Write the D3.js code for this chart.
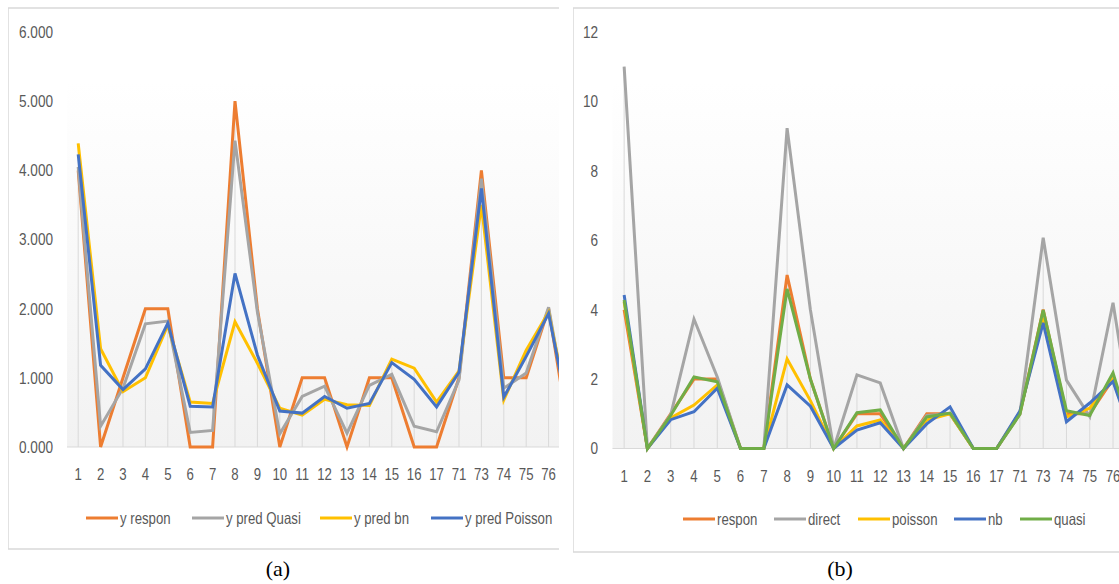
<!DOCTYPE html>
<html>
<head>
<meta charset="utf-8">
<script src="https://cdn.jsdelivr.net/npm/d3@7"></script>
<style>
  html, body { margin: 0; padding: 0; background: #ffffff; }
  svg { display: block; }
  .tick-text { font-family: "Liberation Sans", Arial, sans-serif; fill: #595959; }
  .cap { font-family: "Liberation Serif", "Times New Roman", serif; fill: #000; }
</style>
</head>
<body>
<svg id="chart" width="1119" height="584"></svg>
<script>
// ---------- data ----------
const categories = ["1","2","3","4","5","6","7","8","9","10","11","12","13","14","15","16","17","71","73","74","75","76","77"];

// panel (a)
const seriesNamesA = ["y respon", "y pred Quasi", "y pred bn", "y pred Poisson"];
const aRespon  = [4, 0, 1, 2, 2, 0, 0, 5, 2, 0, 1, 1, 0, 1, 1, 0, 0, 1, 4, 1, 1, 2, 0];
const aQuasi   = [4.05, 0.30, 0.85, 1.78, 1.82, 0.21, 0.24, 4.43, 1.95, 0.19, 0.73, 0.88, 0.20, 0.89, 1.05, 0.30, 0.22, 0.97, 3.88, 0.85, 1.07, 2.02, 0.20];
const aBn      = [4.39, 1.42, 0.80, 1.00, 1.76, 0.65, 0.63, 1.81, 1.21, 0.56, 0.46, 0.69, 0.61, 0.60, 1.27, 1.14, 0.65, 1.10, 3.50, 0.68, 1.40, 1.95, 0.35];
const aPoisson = [4.23, 1.18, 0.83, 1.13, 1.79, 0.59, 0.58, 2.51, 1.33, 0.52, 0.49, 0.73, 0.56, 0.63, 1.22, 0.98, 0.58, 1.08, 3.74, 0.72, 1.31, 1.93, 0.30];
const yTicksA = [0, 1, 2, 3, 4, 5, 6];

// panel (b)
const seriesNamesB = ["respon", "direct", "poisson", "nb", "quasi"];
const bRespon  = [4, 0, 1, 2, 2, 0, 0, 5, 2, 0, 1, 1, 0, 1, 1, 0, 0, 1, 4, 1, 1, 2, 0];
const bDirect  = [11.0, 0, 0.97, 3.73, 2.06, 0, 0, 9.23, 4.0, 0, 2.12, 1.89, 0, 0.95, 1.0, 0, 0, 1.0, 6.07, 1.97, 0.92, 4.2, 0];
const bPoisson = [4.23, 0, 0.88, 1.25, 1.83, 0, 0, 2.58, 1.38, 0, 0.65, 0.82, 0, 0.82, 1.0, 0, 0, 1.05, 3.76, 0.91, 1.16, 2.0, 0];
const bNb      = [4.42, 0, 0.83, 1.06, 1.74, 0, 0, 1.83, 1.22, 0, 0.53, 0.74, 0, 0.71, 1.2, 0, 0, 1.08, 3.62, 0.77, 1.31, 1.93, 0];
const bQuasi   = [4.28, 0, 0.95, 2.06, 1.92, 0, 0, 4.6, 2.0, 0, 1.03, 1.11, 0, 0.91, 1.02, 0, 0, 0.98, 3.99, 1.09, 0.95, 2.18, 0];
const yTicksB = [0, 2, 4, 6, 8, 10, 12];

const colorsA = ["#ED7D31", "#A5A5A5", "#FFC000", "#4472C4"];
const colorsB = ["#ED7D31", "#A5A5A5", "#FFC000", "#4472C4", "#70AD47"];

// ---------- drawing ----------
const NARROW = "scale(0.8,1)";
const svg = d3.select("#chart");
const defs = svg.append("defs");
const grad = defs.append("linearGradient").attr("id", "pa").attr("x1", 0).attr("y1", 0).attr("x2", 0).attr("y2", 1);
grad.append("stop").attr("offset", "0").attr("stop-color", "#ffffff");
grad.append("stop").attr("offset", "0.12").attr("stop-color", "#ffffff");
grad.append("stop").attr("offset", "1").attr("stop-color", "#f2f2f2");

function panel(cfg) {
  const g = svg.append("g");
  const clipId = "clip" + cfg.id;
  defs.append("clipPath").attr("id", clipId).append("rect")
    .attr("x", cfg.boxX).attr("y", 0).attr("width", cfg.clipRight - cfg.boxX).attr("height", 584);
  const inner = g.append("g").attr("clip-path", `url(#${clipId})`);

  // chart border
  inner.append("rect").attr("x", cfg.boxX).attr("y", cfg.boxTop)
    .attr("width", 700).attr("height", cfg.boxBottom - cfg.boxTop)
    .attr("fill", "#fff").attr("stroke", "#d9d9d9").attr("stroke-width", 1.5);

  const x = d3.scaleBand().domain(categories).range([cfg.plotLeft, cfg.plotLeft + cfg.step * categories.length]).padding(0);
  const cx = c => x(c) + x.bandwidth() / 2;
  const y = d3.scaleLinear().domain(cfg.yDomain).range([cfg.y0, cfg.yTop]);

  // plot area
  inner.append("rect").attr("x", cfg.plotLeft).attr("y", cfg.yTop)
    .attr("width", cfg.step * categories.length).attr("height", cfg.y0 - cfg.yTop)
    .attr("fill", "url(#pa)");

  // drop lines
  const maxima = categories.map((c, i) => d3.max(cfg.series, s => s[i]));
  inner.append("g").selectAll("line").data(categories).join("line")
    .attr("x1", d => cx(d)).attr("x2", d => cx(d))
    .attr("y1", (d, i) => y(maxima[i])).attr("y2", y(0))
    .attr("stroke", "#d9d9d9").attr("stroke-width", 1);

  // x axis line
  inner.append("line").attr("x1", cfg.plotLeft).attr("x2", cfg.plotLeft + cfg.step * categories.length)
    .attr("y1", y(0)).attr("y2", y(0)).attr("stroke", "#d9d9d9").attr("stroke-width", 1);

  // y axis labels
  const yAxis = d3.axisLeft(y).tickValues(cfg.yTicks).tickFormat(cfg.fmt).tickSize(0).tickPadding(0);
  const ya = inner.append("g").attr("transform", `translate(${cfg.yLabelRight},0)`).call(yAxis);
  ya.select(".domain").remove();
  ya.selectAll("text").attr("class", "tick-text").style("font-size", cfg.yfs + "px")
    .attr("font-family", null).attr("fill", null).attr("x", 0).attr("transform", NARROW);

  // x axis labels
  const xAxis = d3.axisBottom(x).tickSize(0).tickPadding(0);
  const xa = inner.append("g").attr("transform", `translate(0,${cfg.xLabelY})`).call(xAxis);
  xa.select(".domain").remove();
  xa.selectAll("text").attr("class", "tick-text").style("font-size", cfg.xfs + "px")
    .attr("font-family", null).attr("fill", null).attr("dy", "0.35em").attr("y", 0).attr("transform", NARROW);

  // lines
  const line = d3.line().x((d, i) => cx(categories[i])).y(d => y(d));
  inner.append("g").selectAll("path").data(cfg.series).join("path")
    .attr("d", d => line(d)).attr("fill", "none")
    .attr("stroke", (d, i) => cfg.colors[i]).attr("stroke-width", 3)
    .attr("stroke-linejoin", "miter").attr("stroke-linecap", "butt");

  // legend
  const lg = inner.append("g");
  cfg.names.forEach((n, i) => {
    const lx = cfg.legendX[i];
    lg.append("line").attr("x1", lx).attr("x2", lx + 32).attr("y1", cfg.legendY).attr("y2", cfg.legendY)
      .attr("stroke", cfg.colors[i]).attr("stroke-width", 3);
    lg.append("g").attr("transform", `translate(${lx + 34},${cfg.legendY})`)
      .append("text").attr("class", "tick-text").attr("x", 0).attr("y", 0)
      .attr("dy", "0.35em").attr("transform", NARROW).style("font-size", cfg.lfs + "px").text(n);
  });

  // caption
  g.append("text").attr("class", "cap").attr("x", cfg.capX).attr("y", 576)
    .attr("text-anchor", "middle").style("font-size", "22px").text(cfg.caption);
}

panel({
  id: "a", boxX: 8, boxTop: 8, boxBottom: 549, clipRight: 559,
  plotLeft: 67, step: 22.4, yDomain: [0, 6], y0: 447, yTop: 32,
  yTicks: yTicksA, fmt: d3.format(".3f"), yLabelRight: 53, xLabelY: 474,
  series: [aRespon, aQuasi, aBn, aPoisson], colors: colorsA, names: seriesNamesA,
  legendX: [86, 192, 320, 431], legendY: 518, yfs: 17, xfs: 16.5, lfs: 16.5,
  caption: "(a)", capX: 278
});

panel({
  id: "b", boxX: 573, boxTop: 8, boxBottom: 552, clipRight: 1119,
  plotLeft: 612.5, step: 23.28, yDomain: [0, 12], y0: 448.5, yTop: 32,
  yTicks: yTicksB, fmt: d3.format("d"), yLabelRight: 598, xLabelY: 476,
  series: [bRespon, bDirect, bPoisson, bNb, bQuasi], colors: colorsB, names: seriesNamesB,
  legendX: [683, 774, 858, 954, 1020], legendY: 519, yfs: 17, xfs: 16.5, lfs: 16.5,
  caption: "(b)", capX: 840
});
</script>
</body>
</html>
